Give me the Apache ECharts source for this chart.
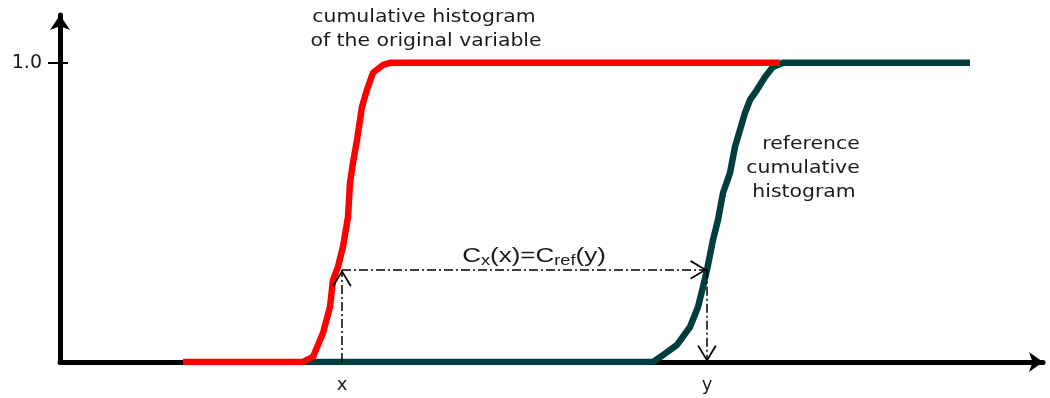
<!DOCTYPE html>
<html>
<head>
<meta charset="utf-8">
<script src="https://cdn.jsdelivr.net/npm/echarts@6/dist/echarts.min.js"></script>
<style>
html, body { margin: 0; background: #fff; }
#main { width: 1050px; height: 398px; }
</style>
</head>
<body>
<div id="main"></div>
<script>
// cumulative histogram of the original variable (red)
var origX = [123, 243, 253, 263, 270, 273, 278, 283, 288, 290, 293, 297, 302, 307, 313, 323, 330, 720];
var origC = [0, 0, 0.017, 0.097, 0.184, 0.274, 0.318, 0.385, 0.485, 0.599, 0.666, 0.742, 0.853, 0.91, 0.967, 0.993, 1, 1];
// reference cumulative histogram (dark green)
var refX = [243, 593, 603, 617, 630, 638, 643, 647, 653, 658, 663, 670, 675, 680, 685, 690, 697, 705, 713, 723, 910];
var refC = [0, 0, 0.023, 0.057, 0.117, 0.184, 0.251, 0.308, 0.408, 0.475, 0.565, 0.632, 0.719, 0.776, 0.833, 0.876, 0.91, 0.953, 0.987, 1, 1];
// axis ticks
var yTicks = [1.0];
var xTickValues = [282, 647];
var xTickLabels = ['x', 'y'];
// the mapping Cx(x) = Cref(y)
var mapX = 282, mapY = 647, mapC = 0.308;

var FONT = '"DejaVu Sans", Verdana, sans-serif';
var ARIAL = '"Liberation Sans", Arial, sans-serif';
// open arrow head, tip in the middle of the box so it ends on the line end
var chevron = 'path://M10,0 L20,17 L18.6,18.4 L10,3.4 L1.4,18.4 L0,17 Z M10,-18.4 L10.05,-18.4 L10,-18.35 Z';

function zip(xs, ys) {
    return xs.map(function (x, i) { return [x, ys[i]]; });
}
function note(text, x, y) {
    return {
        type: 'text', x: x, y: y, scaleX: 1.2,
        style: { text: text, font: '17px ' + FONT, fill: '#1a1a1a', align: 'center', verticalAlign: 'middle' }
    };
}

var myChart = echarts.init(document.getElementById('main'));
var option = {
    animation: false,
    backgroundColor: '#fff',
    grid: { left: 60, right: 7, top: 15, bottom: 36 },
    xAxis: {
        type: 'value',
        min: 0,
        max: 983,
        splitLine: { show: false },
        axisTick: { show: false },
        axisLine: {
            symbol: ['none', 'arrow'],
            symbolSize: [15, 14],
            lineStyle: { color: '#000', width: 5 }
        },
        axisLabel: {
            customValues: xTickValues,
            formatter: function (v) { return xTickLabels[xTickValues.indexOf(v)]; },
            color: '#1a1a1a',
            fontFamily: FONT,
            fontSize: 18,
            margin: 14
        }
    },
    yAxis: [{
        type: 'value',
        min: 0,
        max: 1.16,
        splitLine: { show: false },
        axisLine: {
            symbol: ['none', 'arrow'],
            symbolSize: [15, 15],
            lineStyle: { color: '#000', width: 5 }
        },
        axisTick: { customValues: yTicks, length: 12, lineStyle: { color: '#000', width: 2 } },
        axisLabel: {
            customValues: yTicks,
            formatter: function (v) { return v.toFixed(1); },
            color: '#1a1a1a',
            fontFamily: FONT,
            fontSize: 19,
            margin: 18
        }
    }, {
        // the inner half of the tick that crosses the axis
        type: 'value',
        position: 'left',
        min: 0,
        max: 1.16,
        splitLine: { show: false },
        axisLine: { show: false },
        axisLabel: { show: false },
        axisTick: { inside: true, customValues: yTicks, length: 8, lineStyle: { color: '#000', width: 2 } }
    }],
    series: [{
        name: 'reference',
        type: 'line',
        data: zip(refX, refC),
        showSymbol: false,
        z: 3,
        lineStyle: { color: '#003d3d', width: 6.5 }
    }, {
        name: 'original',
        type: 'line',
        data: zip(origX, origC),
        showSymbol: false,
        z: 4,
        lineStyle: { color: '#ff0000', width: 6.5 }
    }, {
        name: 'mapping',
        type: 'line',
        data: [],
        z: 5,
        markLine: {
            silent: true,
            symbol: ['none', chevron],
            symbolSize: [19, 34],
            label: { show: false },
            lineStyle: { color: '#000', width: 1.5, type: [9, 3, 2, 3] },
            data: [
                [{ coord: [mapX, 0] }, { coord: [mapX, mapC] }],
                [{ coord: [mapX, mapC] }, { coord: [mapY, mapC] }],
                [{ coord: [mapY, mapC] }, { coord: [mapY, 0] }]
            ]
        }
    }],
    graphic: [
        note('cumulative histogram', 424, 18),
        note('of the original variable', 426, 42),
        note('reference', 811, 145),
        note('cumulative', 803, 169),
        note('histogram', 804, 193),
        {
            type: 'text', x: 534, y: 256, scaleX: 1.3,
            style: {
                text: '{n|C}{s|x}{n|(x)=C}{s|ref}{n|(y)}',
                fill: '#1a1a1a', align: 'center', verticalAlign: 'middle',
                rich: {
                    n: { fontFamily: ARIAL, fontSize: 20, lineHeight: 24, fill: '#1a1a1a' },
                    s: { fontFamily: ARIAL, fontSize: 14, lineHeight: 20, fill: '#1a1a1a', verticalAlign: 'bottom' }
                }
            }
        }
    ]
};
myChart.setOption(option);
window.addEventListener('resize', function () { myChart.resize(); });
</script>
</body>
</html>
